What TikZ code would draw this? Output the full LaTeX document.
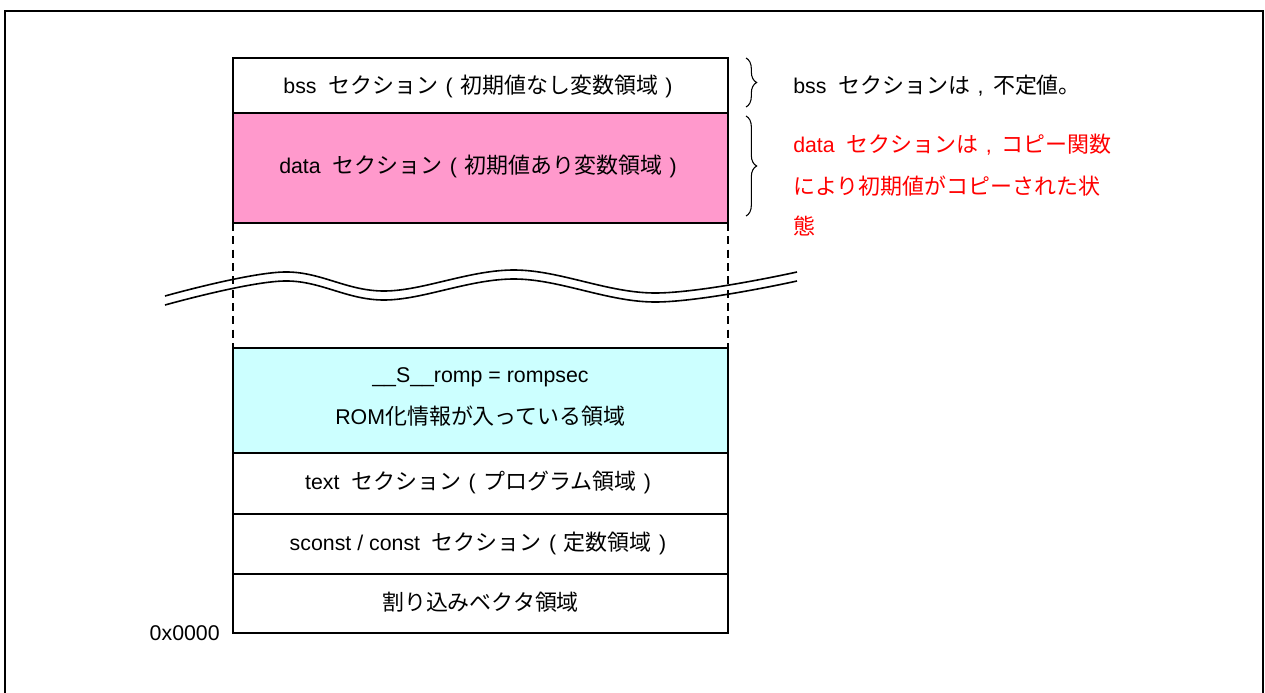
\documentclass[tikz,border=0pt]{standalone}
\usepackage{fontspec}
\setmainfont{Liberation Sans}
\newfontfamily\jpfont[Scale=1.03]{Noto Sans CJK JP}
\newcommand{\jp}[1]{{\jpfont #1}}
\newcommand{\gap}{\hspace{0.55em}}
\newcommand{\lp}{\hspace{0.35em}(\hspace{0.35em}}
\newcommand{\rp}{\hspace{0.35em})\hspace{0.35em}}
\newcommand{\cm}{\hspace{0.35em},\hspace{0.45em}}
\usetikzlibrary{decorations.pathreplacing}
\definecolor{datapink}{HTML}{FF99CC}
\definecolor{romcyan}{HTML}{CCFFFF}
\definecolor{notered}{HTML}{FF0000}
\begin{document}
\begin{tikzpicture}[x=0.75pt,y=-0.75pt,
  secbox/.style={draw=black,line width=1pt},
  lbl/.style={font=\fontsize{16pt}{19pt}\selectfont,inner sep=0pt},
  brc/.style={decorate,decoration={brace,amplitude=8pt},line width=0.8pt},
  gapline/.style={dash pattern=on 6pt off 4pt,line width=0.8pt},
  wavy/.style={line width=1.2pt}]
\useasboundingbox (0,0) rectangle (1265,693);
% outer frame (open at bottom)
\draw[line width=1.6pt] (5,700) -- (5,11) -- (1263,11) -- (1263,700);
% sections
\path[secbox,fill=white] (233,58) rectangle (728,113);
\path[secbox,fill=datapink] (233,113) rectangle (728,223);
\draw[gapline] (233,223) -- (233,348);
\draw[gapline] (728,223) -- (728,348);
\path[secbox,fill=romcyan] (233,348) rectangle (728,453);
\path[secbox,fill=white] (233,453) rectangle (728,514);
\path[secbox,fill=white] (233,514) rectangle (728,574);
\path[secbox,fill=white] (233,574) rectangle (728,633);
% labels in sections
\node[lbl] (bss) at (478,86) {bss\gap\jp{セクション}\lp\jp{初期値なし変数領域}\rp};
\node[lbl] (data) at (478,166) {data\gap\jp{セクション}\lp\jp{初期値あり変数領域}\rp};
\node[lbl] (romp) at (480.5,377) {\_\_S\_\_romp = rompsec};
\node[lbl] (rom) at (480.5,416) {ROM\jp{化情報が入っている領域}};
\node[lbl] (text) at (478,482) {text\gap\jp{セクション}\lp\jp{プログラム領域}\rp};
\node[lbl] (sconst) at (478,543) {sconst / const\gap\jp{セクション}\lp\jp{定数領域}\rp};
\node[lbl] (vec) at (480.5,602) {\jp{割り込みベクタ領域}};
\node[lbl,anchor=east] (addr) at (220,633) {0x0000};
% wave break
\draw[wavy] plot[smooth,tension=0.6] coordinates {(165,296) (284,272) (385,291) (515,270) (654,293) (797,272)};
\draw[wavy] plot[smooth,tension=0.6] coordinates {(165,305) (284,281) (385,300) (515,279) (654,302) (797,281)};
% braces
\coordinate (b1t) at (746,58);
\coordinate (b1b) at (746,107);
\coordinate (b2t) at (746,116);
\coordinate (b2b) at (746,216);
\draw[brc] (b1t) -- (b1b);
\draw[brc] (b2t) -- (b2b);
% notes
\node[lbl,anchor=west] (bssnote) at (793,86) {bss\gap\jp{セクションは}\cm\jp{不定値。}};
\node[lbl,anchor=west,text=notered] (dn1) at (793,145) {data\gap\jp{セクションは}\cm\jp{コピー関数}};
\node[lbl,anchor=west,text=notered] (dn2) at (793,186) {\jp{により初期値がコピーされた状}};
\node[lbl,anchor=west,text=notered] (dn3) at (793,226) {\jp{態}};
\end{tikzpicture}
\end{document}
